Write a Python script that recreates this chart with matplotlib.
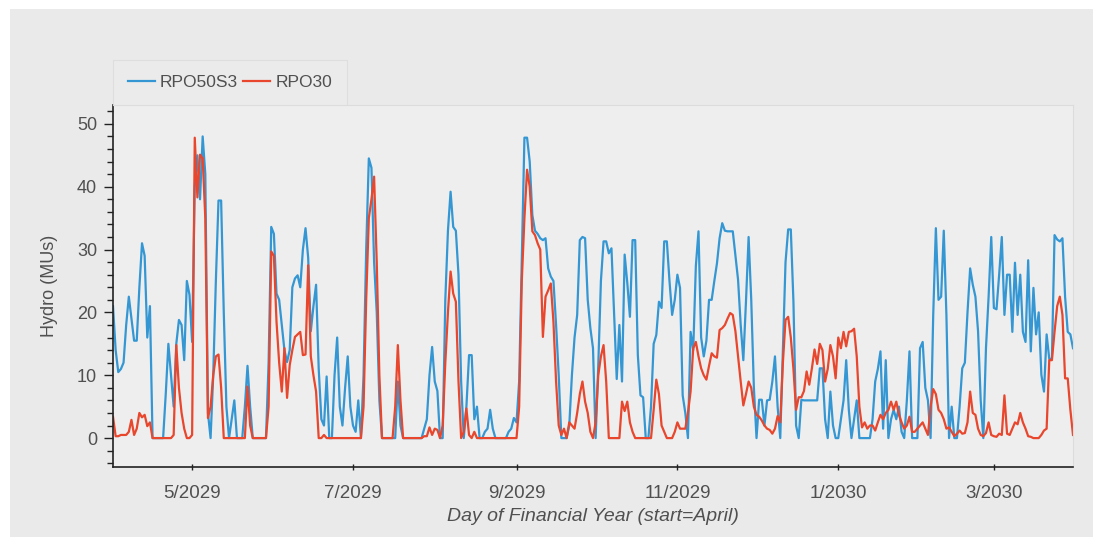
import numpy as np
import pandas as pd
import matplotlib
matplotlib.use("Agg")
import matplotlib.pyplot as plt
import matplotlib.dates as mdates
from matplotlib.patches import Rectangle
from matplotlib.ticker import MultipleLocator

plt.rcParams['font.family'] = ['Liberation Sans', 'DejaVu Sans']

start_date = "2029-04-01"
series_names = ["RPO50S3", "RPO30"]

rpo50s3 = [
    21, 14, 10.5, 11, 12, 18, 22.5, 19, 15.5, 15.5,
    24, 31, 29, 16, 21, 0, 0, 0, 0, 0,
    7, 15, 10, 5, 15, 18.8, 18, 12.4, 25, 22.8,
    15.3, 40, 45, 38, 48, 42, 4, 0, 10, 25,
    37.8, 37.8, 20, 5, 0, 3, 6, 0, 0, 0,
    5, 11.5, 5, 0, 0, 0, 0, 0, 0, 12,
    33.6, 32.5, 23, 22, 18, 14, 12.1, 14, 24, 25.4,
    25.9, 24, 30, 33.4, 28.7, 17, 21, 24.4, 11, 3,
    2, 9.8, 0, 0, 10, 16, 5, 2, 8, 13,
    5, 2, 1, 6, 0, 10, 30, 44.5, 43, 28,
    20, 6, 0, 0, 0, 0, 0, 0, 9, 2,
    0, 0, 0, 0, 0, 0, 0, 0, 1.5, 3,
    10, 14.5, 9, 7.5, 0, 0, 22, 33, 39.2, 33.6,
    33, 26, 9, 0, 5, 13.2, 13.2, 3, 5, 0,
    0, 1, 1.5, 4.5, 1.5, 0, 0, 0, 0, 0,
    1, 1.5, 3.2, 2.5, 9, 28, 47.8, 47.8, 44, 35.5,
    33, 32.5, 31.8, 31.5, 31.8, 27, 25.7, 25, 18, 10,
    0, 0, 0, 2, 10, 16, 19.6, 31.5, 32, 31.8,
    22, 17.5, 14.3, 0, 11.6, 25, 31.3, 31.3, 29.4, 30.2,
    20, 9.4, 18, 9, 29.2, 24.7, 19.3, 31.5, 31.5, 13.2,
    6.8, 6.5, 0, 0, 5, 15, 16.4, 21.7, 20.7, 31.3,
    31.3, 25, 19.6, 22, 26, 23.9, 6.8, 4, 0, 16.9,
    14, 27.4, 32.9, 16, 13, 15.5, 22, 22, 25, 27.8,
    31.8, 34.2, 33, 32.9, 32.9, 32.9, 29, 25.2, 18, 12.4,
    21.7, 32, 22, 8, 0, 6.1, 6.1, 2, 6, 6.1,
    9, 13, 5, 0, 14.3, 28, 33.2, 33.2, 21.7, 2,
    0, 6.1, 6, 6, 6, 6, 6, 6, 11.1, 11.1,
    3, 0, 7.4, 2, 0, 0, 3, 6, 12.4, 4.5,
    0, 3, 6, 0, 0, 0, 0, 0, 3, 9,
    11, 13.8, 1.5, 12.4, 0, 3, 4.5, 3, 5, 1,
    0, 6, 13.8, 0, 0, 0, 14.3, 15.3, 8, 6,
    0, 19.6, 33.4, 22, 22.5, 33, 19.6, 0, 5, 0,
    0, 5, 11.1, 12, 20, 27, 24.4, 22.5, 17, 6,
    0, 14.3, 22.5, 32, 20.7, 20.5, 26, 32, 19.6, 26,
    26, 16.9, 27.9, 19.6, 26, 16.9, 15.3, 28.3, 13.8, 23.9,
    16.5, 20, 10.1, 7.4, 16.5, 12.6, 12.6, 32.3, 31.6, 31.3,
    31.8, 22.5, 16.9, 16.5, 14.3,
]

rpo30 = [
    3.4, 0.3, 0.3, 0.5, 0.5, 0.5, 1, 2.9, 0.5, 1.5,
    4, 3.3, 3.7, 1.9, 2.5, 0, 0, 0, 0, 0,
    0, 0, 0, 0.5, 14.8, 8, 4, 1.5, 0, 0,
    0.5, 47.8, 38.3, 45.1, 44.5, 35, 3.2, 5, 10, 13,
    13.3, 8, 0, 0, 0, 0, 0, 0, 0, 0,
    0, 8.2, 2, 0, 0, 0, 0, 0, 0, 5,
    29.7, 29, 18.5, 12, 7.4, 14.3, 6.4, 11.6, 14, 16.1,
    16.5, 16.9, 13.2, 13.3, 27.5, 13, 10, 7.4, 0, 0,
    0.5, 0, 0, 0, 0, 0, 0, 0, 0, 0,
    0, 0, 0, 0, 0, 5, 22, 35, 38, 41.6,
    28, 10, 0, 0, 0, 0, 0, 5, 14.8, 6,
    0, 0, 0, 0, 0, 0, 0, 0, 0.3, 0.3,
    1.7, 0.5, 1.5, 1.3, 0, 2, 12, 20, 26.5, 23,
    21.7, 9, 0, 1, 4.7, 0.5, 0, 1, 0, 0,
    0, 0, 0, 0, 0, 0, 0, 0, 0, 0,
    0, 0, 0, 0, 5, 25, 35, 42.7, 40, 32.9,
    32.3, 31, 30, 16.1, 22.5, 23.5, 24.6, 18.5, 9, 2,
    0.5, 1.5, 0, 2.5, 2, 1.5, 4, 7, 9, 5.8,
    4, 1, 0, 2.5, 10, 13, 14.8, 9, 0, 0,
    0, 0, 0, 5.8, 4.3, 5.8, 2.5, 1, 0, 0,
    0, 0, 0, 0, 0, 4.5, 9.3, 7, 2, 1,
    0, 0, 0, 1, 2.5, 1.5, 1.5, 1.5, 4, 7.4,
    14.3, 15.3, 13, 11.1, 10, 9.3, 11.5, 13.5, 13, 12.8,
    17.2, 17.5, 18, 19, 19.9, 19.6, 17, 13, 9, 5.2,
    7, 9, 8, 5, 3.7, 3.4, 2.8, 2, 1.5, 1.3,
    0.7, 1.5, 3.5, 2.5, 12, 18.8, 19.3, 16, 11, 4.5,
    6.5, 6.5, 7.5, 10.6, 8.5, 11.1, 14.1, 11.8, 15, 14,
    9, 11, 14.8, 13, 9.5, 16, 14.3, 16.9, 14.6, 16.9,
    17, 17.4, 13, 5, 1.7, 2.5, 1.5, 2, 2, 1.2,
    2.5, 3.7, 3, 4, 4.5, 5.8, 4.5, 5.8, 3.7, 2.5,
    1.5, 2, 3.4, 1, 1, 1.5, 2, 2.5, 1.5, 0.5,
    5, 7.8, 7, 4.5, 4, 3, 1.5, 1.7, 1, 0.3,
    0.7, 1.2, 0.7, 0.8, 2.5, 7.4, 4, 3.7, 1.5, 0.5,
    0.3, 0.8, 2.5, 0.5, 0.3, 0.2, 0.7, 0.5, 6.8, 0.7,
    0.5, 1.5, 2.5, 2.2, 4, 2.5, 1.5, 0.3, 0.2, 0,
    0, 0, 0.5, 1.2, 1.5, 12.4, 12.4, 16.9, 21, 22.5,
    19.6, 9.5, 9.5, 4.5, 0.5,
]

n = min(len(rpo50s3), len(rpo30))
days = pd.date_range(start_date, periods=n, freq="D")

blue = "#3497d3"
red = "#e8462d"
text_col = "#505050"

fig = plt.figure(figsize=(11.04, 5.46), dpi=100, facecolor="white")
# grey panel behind the chart
panel = Rectangle((10 / 1104, 9 / 546), 1083 / 1104, 528 / 546,
                  transform=fig.transFigure, facecolor="#eaeaea",
                  edgecolor="none", zorder=-10)
fig.add_artist(panel)

ax = fig.add_axes([113 / 1104, 1 - 467 / 546, 960 / 1104, 362 / 546])
ax.set_zorder(1)
ax.set_facecolor("#eeeeee")

l1, = ax.plot(days, rpo50s3[:n], color=blue, lw=1.6, label=series_names[0])
l2, = ax.plot(days, rpo30[:n], color=red, lw=1.6, label=series_names[1])

ax.set_xlim(days[0], days[-1])
ax.set_ylim(-4.6, 53)

ax.yaxis.set_major_locator(MultipleLocator(10))
ax.yaxis.set_minor_locator(MultipleLocator(2))
ax.xaxis.set_major_locator(mdates.MonthLocator(bymonth=[1, 3, 5, 7, 9, 11]))
ax.xaxis.set_major_formatter(mdates.DateFormatter("%-m/%Y"))

ax.tick_params(axis="y", which="major", direction="out", length=6.5, width=1,
               colors="#222222", labelcolor=text_col, labelsize=13, pad=5)
ax.tick_params(axis="y", which="minor", direction="out", length=4.3, width=1,
               colors="#222222")
ax.tick_params(axis="x", which="major", direction="inout", length=5, width=1,
               colors="#222222", labelcolor=text_col, labelsize=13.5, pad=10.5)

for side in ("top", "right"):
    ax.spines[side].set_color("#dcdcdc")
    ax.spines[side].set_linewidth(0.8)
for side in ("left", "bottom"):
    ax.spines[side].set_color("#222222")
    ax.spines[side].set_linewidth(1.2)

ax.set_ylabel("Hydro (MUs)", fontsize=13, color=text_col, labelpad=13.5)
ax.set_xlabel("Day of Financial Year (start=April)", fontsize=14,
              color=text_col, style="italic", labelpad=4)

leg = ax.legend(handles=[l1, l2], loc="lower left", bbox_to_anchor=(0, 1.0),
                ncol=2, frameon=True, fontsize=12.5, handlelength=1.55,
                handletextpad=0.3, columnspacing=0.3, borderpad=0.85,
                borderaxespad=0, fancybox=False)
leg.get_frame().set_facecolor("#ececec")
leg.get_frame().set_edgecolor("#dcdcdc")
leg.get_frame().set_linewidth(0.8)
for t in leg.get_texts():
    t.set_color(text_col)

fig.savefig("out.png", dpi=100, facecolor=fig.get_facecolor())
